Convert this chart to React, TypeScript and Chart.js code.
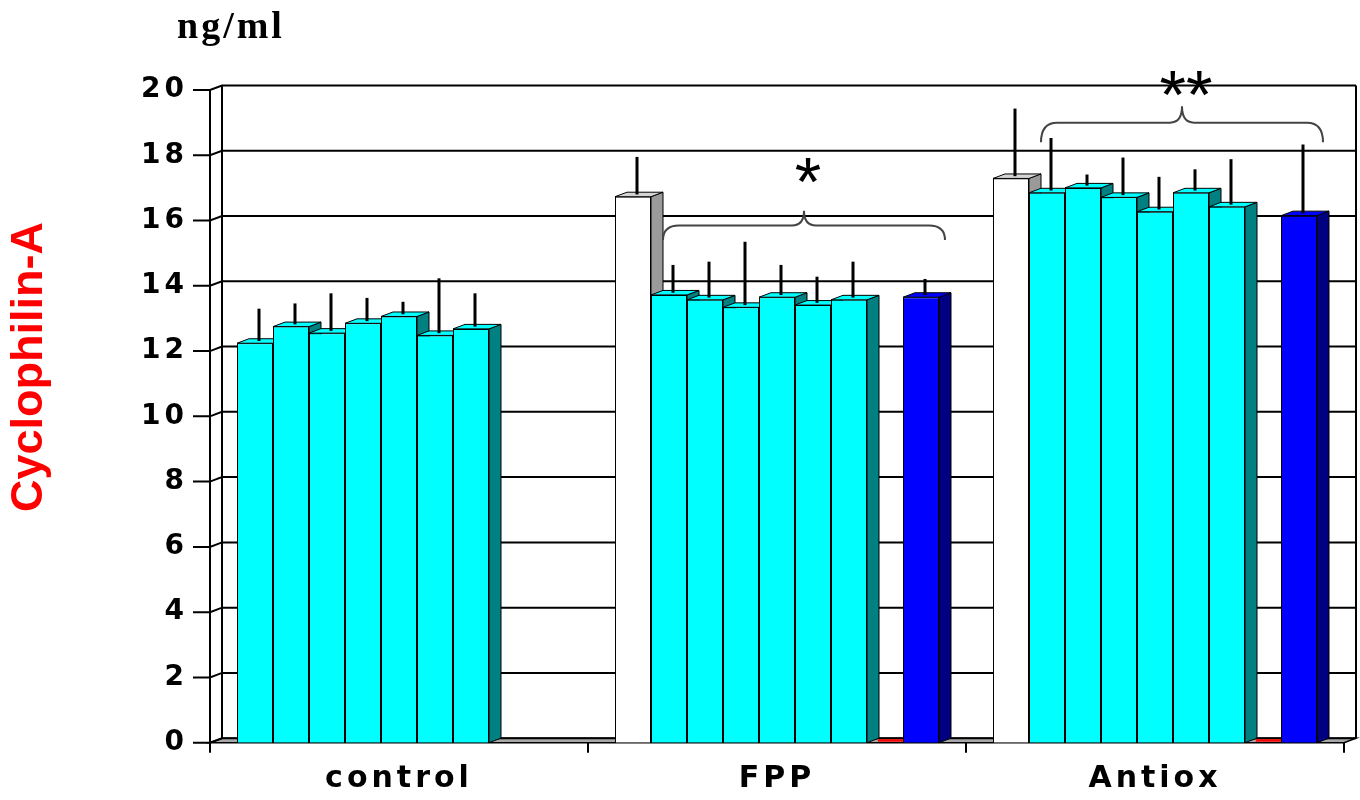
import React, { useEffect, useRef } from "react";
import { Chart, registerables } from "chart.js";

Chart.register(...registerables);

// ---------- data ----------
const categories = ["control", "FPP", "Antiox"];
const yTicks = [0, 2, 4, 6, 8, 10, 12, 14, 16, 18, 20];

// nine bar positions in every group, left to right
const slot0 = [12.24, 16.73, 17.29];
const slot1 = [12.75, 13.72, 16.85];
const slot2 = [12.55, 13.57, 17.0];
const slot3 = [12.85, 13.34, 16.71];
const slot4 = [13.06, 13.65, 16.27];
const slot5 = [12.48, 13.41, 16.85];
const slot6 = [12.68, 13.57, 16.42];
const slot7 = [null, 0, 0];
const slot8 = [null, 13.65, 16.15];

// upper error (SD) of each bar
const err0 = [1.06, 1.22, 2.14];
const err1 = [0.71, 0.92, 1.68];
const err2 = [1.22, 1.17, 0.41];
const err3 = [0.78, 2.01, 1.22];
const err4 = [0.45, 0.99, 1.07];
const err5 = [1.75, 0.87, 0.72];
const err6 = [1.09, 1.17, 1.46];
const err7 = [null, null, null];
const err8 = [null, 0.56, 2.18];

const CYAN = "#00FFFF";
const WHITE = "#FFFFFF";
const RED = "#FF0000";
const BLUE = "#0000FF";

const color0 = [CYAN, WHITE, WHITE];
const colorCyan = [CYAN, CYAN, CYAN];
const color7 = [RED, RED, RED];
const color8 = [BLUE, BLUE, BLUE];

// significance braces
const braceCategory = [1, 2];
const braceEndValue = [15.4, 18.4];
const braceLineValue = [15.85, 19.0];
const bracePeakValue = [16.3, 19.5];
const braceLabel = ["*", "**"];
const braceLabelValue = [17.4, 20.05];

const yTitle = "Cyclophilin-A";
const unitTitle = "ng/ml";

// ---------- drawing helpers ----------
const DX = 12;
const DY = 4.5;

const sideColor: Record<string, string> = {
  [CYAN]: "#008080",
  [WHITE]: "#9a9a9a",
  [BLUE]: "#000080",
  [RED]: "#800000",
};
const topColor: Record<string, string> = {
  [CYAN]: CYAN,
  [WHITE]: "#d4d4d4",
  [BLUE]: BLUE,
  [RED]: RED,
};

function drawWall(chart: any) {
  const ctx = chart.ctx;
  const { left, right, top, bottom } = chart.chartArea;
  const y = chart.scales.y;
  ctx.save();
  // floor
  ctx.beginPath();
  ctx.moveTo(left, bottom);
  ctx.lineTo(right, bottom);
  ctx.lineTo(right + DX, bottom - DY);
  ctx.lineTo(left + DX, bottom - DY);
  ctx.closePath();
  ctx.fillStyle = "#a8a8a8";
  ctx.fill();
  ctx.strokeStyle = "#000";
  ctx.lineWidth = 1.5;
  ctx.stroke();
  // grid on back wall + ticks
  ctx.lineWidth = 2;
  y.ticks.forEach((t: any) => {
    const py = y.getPixelForValue(t.value);
    ctx.beginPath();
    ctx.moveTo(left - 17, py);
    ctx.lineTo(left, py);
    ctx.lineTo(left + DX, py - DY);
    ctx.lineTo(right + DX, py - DY);
    ctx.stroke();
  });
  ctx.beginPath();
  ctx.moveTo(left + DX, top - DY);
  ctx.lineTo(left + DX, bottom - DY);
  ctx.moveTo(right + DX, top - DY);
  ctx.lineTo(right + DX, bottom - DY);
  ctx.moveTo(left, top);
  ctx.lineTo(left, bottom + 8);
  ctx.stroke();
  // category ticks
  const n = categories.length;
  ctx.beginPath();
  for (let i = 0; i <= n; i++) {
    const px = left + (i * (right - left)) / n;
    ctx.moveTo(px, bottom);
    ctx.lineTo(px, bottom + 10);
  }
  ctx.stroke();
  ctx.restore();
}

function drawBarDepth(chart: any) {
  const ctx = chart.ctx;
  const datasets = chart.data.datasets;
  for (let c = 0; c < categories.length; c++) {
    for (let d = 0; d < datasets.length; d++) {
      const ds = datasets[d];
      const v = ds.data[c];
      if (v === null || v === undefined) continue;
      const el = chart.getDatasetMeta(d).data[c];
      const { x, y, base, width } = el.getProps(["x", "y", "base", "width"], true);
      const l = x - width / 2;
      const r = x + width / 2;
      const front = ds.backgroundColor[c];
      ctx.save();
      ctx.strokeStyle = "#000";
      ctx.lineWidth = 1;
      if (v > 0) {
        ctx.beginPath();
        ctx.moveTo(r, y);
        ctx.lineTo(r + DX, y - DY);
        ctx.lineTo(r + DX, base - DY);
        ctx.lineTo(r, base);
        ctx.closePath();
        ctx.fillStyle = sideColor[front];
        ctx.fill();
        ctx.stroke();
      }
      ctx.beginPath();
      if (v > 0) {
        ctx.moveTo(l, y);
        ctx.lineTo(l + DX, y - DY);
        ctx.lineTo(r + DX, y - DY);
        ctx.lineTo(r, y);
      } else {
        ctx.moveTo(l + DX * 0.9, y - 1);
        ctx.lineTo(l + DX * 0.9, y - 3.5);
        ctx.lineTo(r, y - 3.5);
        ctx.lineTo(r, y - 1);
      }
      ctx.closePath();
      ctx.fillStyle = topColor[front];
      ctx.fill();
      if (v > 0) ctx.stroke();
      ctx.restore();
    }
  }
}

const depthPlugin = {
  id: "depth3d",
  beforeDraw(chart: any) {
    chart.ctx.letterSpacing = "4px";
  },
  beforeDatasetsDraw(chart: any) {
    chart.ctx.letterSpacing = "0px";
    drawWall(chart);
    drawBarDepth(chart);
  },
  afterDatasetsDraw(chart: any) {
    const ctx = chart.ctx;
    const yS = chart.scales.y;
    ctx.save();
    ctx.strokeStyle = "#000";
    ctx.lineWidth = 3;
    chart.data.datasets.forEach((ds: any, d: number) => {
      const meta = chart.getDatasetMeta(d);
      meta.data.forEach((el: any, i: number) => {
        const v = ds.data[i];
        const e = ds.errors[i];
        if (v === null || e === null || v === undefined || e === undefined) return;
        const { x, y } = el.getProps(["x", "y"], true);
        const yt = yS.getPixelForValue(v + e);
        ctx.beginPath();
        ctx.moveTo(x + 4, y - DY / 2);
        ctx.lineTo(x + 4, yt);
        ctx.stroke();
      });
    });
    ctx.restore();
  },
};

const annotPlugin = {
  id: "annot",
  afterDraw(chart: any) {
    const ctx = chart.ctx;
    const yS = chart.scales.y;
    const m1 = chart.getDatasetMeta(1);
    const m8 = chart.getDatasetMeta(8);
    ctx.save();
    ctx.letterSpacing = "0px";
    braceCategory.forEach((c, k) => {
      const a = m1.data[c];
      const b = m8.data[c];
      const x0 = a.x - a.width / 2 + 12;
      const x1 = b.x + b.width / 2 + 6;
      const xm = (x0 + x1) / 2;
      const yEnd = yS.getPixelForValue(braceEndValue[k]);
      const yLine = yS.getPixelForValue(braceLineValue[k]);
      const yPeak = yS.getPixelForValue(bracePeakValue[k]);
      ctx.beginPath();
      ctx.moveTo(x0, yEnd);
      ctx.quadraticCurveTo(x0, yLine, x0 + 16, yLine);
      ctx.lineTo(xm - 12, yLine);
      ctx.quadraticCurveTo(xm, yLine, xm, yPeak);
      ctx.quadraticCurveTo(xm, yLine, xm + 12, yLine);
      ctx.lineTo(x1 - 16, yLine);
      ctx.quadraticCurveTo(x1, yLine, x1, yEnd);
      ctx.strokeStyle = "#444";
      ctx.lineWidth = 2;
      ctx.stroke();
      ctx.fillStyle = "#000";
      ctx.font = "68px 'Liberation Sans'";
      ctx.textAlign = "center";
      ctx.textBaseline = "alphabetic";
      ctx.fillText(braceLabel[k], xm + 4, yS.getPixelForValue(braceLabelValue[k]) + 30);
    });
    // unit title
    ctx.font = "bold 38px 'Liberation Serif'";
    ctx.letterSpacing = "3px";
    ctx.textAlign = "left";
    ctx.textBaseline = "alphabetic";
    ctx.fillStyle = "#000";
    ctx.fillText(unitTitle, 177, 38);
    // y title
    ctx.letterSpacing = "0px";
    ctx.translate(30, 367);
    ctx.rotate(-Math.PI / 2);
    ctx.font = "bold 45px 'Liberation Sans'";
    ctx.fillStyle = "#FF0000";
    ctx.textAlign = "center";
    ctx.textBaseline = "middle";
    ctx.fillText(yTitle, 0, 0);
    ctx.restore();
  },
};

export default function App() {
  const ref = useRef<HTMLCanvasElement>(null);
  useEffect(() => {
    if (!ref.current) return;
    const slots = [slot0, slot1, slot2, slot3, slot4, slot5, slot6, slot7, slot8];
    const errs = [err0, err1, err2, err3, err4, err5, err6, err7, err8];
    const colors = [color0, colorCyan, colorCyan, colorCyan, colorCyan, colorCyan, colorCyan, color7, color8];
    const chart = new Chart(ref.current, {
      type: "bar",
      data: {
        labels: categories,
        datasets: slots.map((s, i) => ({
          label: "bar " + (i + 1),
          data: s,
          errors: errs[i],
          backgroundColor: colors[i],
          borderColor: "#000",
          borderWidth: 1,
          borderSkipped: "start",
          barPercentage: 1,
          categoryPercentage: 324 / 378,
        })) as any,
      },
      options: {
        animation: false,
        responsive: false,
        devicePixelRatio: 1,
        layout: { padding: { top: 90, right: 16, left: 0, bottom: 0 } },
        plugins: { legend: { display: false }, tooltip: { enabled: false } },
        scales: {
          x: {
            grid: { display: false, drawTicks: false },
            border: { display: false },
            ticks: {
              padding: 19,
              maxRotation: 0,
              autoSkip: false,
              color: "#000",
              font: { family: "'DejaVu Sans'", weight: "bold", size: 30 },
            },
            afterFit: (s: any) => {
              s.height = 800 - 742.7;
            },
          },
          y: {
            min: 0,
            max: 20,
            grid: { display: false, drawTicks: false },
            border: { display: false },
            afterBuildTicks: (s: any) => {
              s.ticks = yTicks.map((v) => ({ value: v }));
            },
            ticks: {
              padding: 22,
              color: "#000",
              font: { family: "'DejaVu Sans'", weight: "bold", size: 28 },
            },
            afterFit: (s: any) => {
              s.width = 210;
            },
          },
        },
      } as any,
      plugins: [depthPlugin, annotPlugin],
    });
    return () => chart.destroy();
  }, []);
  return (
    <canvas
      ref={ref}
      width={1360}
      height={800}
      style={{ position: "fixed", left: 0, top: 0, display: "block" }}
    />
  );
}
